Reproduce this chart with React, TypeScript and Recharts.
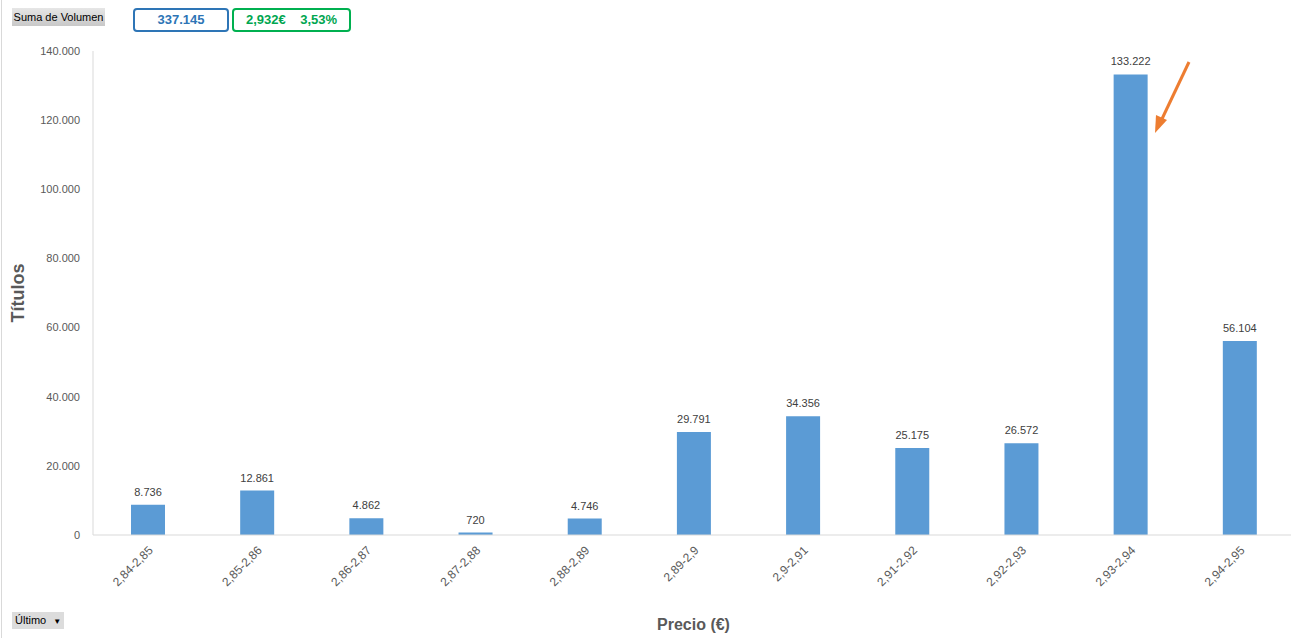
import React from "react";
import { BarChart, Bar, XAxis, YAxis, LabelList } from "recharts";

const categories = ["2,84-2,85", "2,85-2,86", "2,86-2,87", "2,87-2,88", "2,88-2,89", "2,89-2,9", "2,9-2,91", "2,91-2,92", "2,92-2,93", "2,93-2,94", "2,94-2,95"];
const volumes = [8736, 12861, 4862, 720, 4746, 29791, 34356, 25175, 26572, 133222, 56104];
const yTicks = [0, 20000, 40000, 60000, 80000, 100000, 120000, 140000];

const data = categories.map((c, i) => ({ cat: c, vol: volumes[i] }));

const fmt = (v: number) => (v === 0 ? "0" : v.toLocaleString("de-DE"));

const FONT = "'Liberation Sans', Arial, sans-serif";

export default function App() {
  return (
    <div style={{ position: "absolute", left: 0, top: 0, width: 1291, height: 638, overflow: "hidden", background: "#fff", fontFamily: FONT }}>
      <div style={{ position: "absolute", left: 1, top: 0, width: 1, height: 638, background: "#d9d9d9" }} />
      <BarChart width={1294} height={638} data={data} margin={{ top: 51, right: 0, left: 0, bottom: 0 }}>
        <XAxis
          dataKey="cat"
          height={103}
          tickLine={false}
          axisLine={{ stroke: "#d9d9d9" }}
          interval={0}
          angle={-45}
          textAnchor="end"
          tick={{ fill: "#595959", fontSize: 12, fontFamily: FONT }}
          tickMargin={4}
          label={{ value: "Precio (€)", position: "insideBottom", offset: 8, style: { fill: "#595959", fontSize: 16, fontWeight: "bold", fontFamily: FONT } }}
        />
        <YAxis
          width={93}
          domain={[0, 140000]}
          ticks={yTicks}
          tickFormatter={fmt}
          tickLine={false}
          axisLine={{ stroke: "#d9d9d9" }}
          tick={{ fill: "#595959", fontSize: 11, fontFamily: FONT }}
          tickMargin={7}
          label={{ value: "Títulos", angle: -90, position: "insideLeft", offset: 18, style: { textAnchor: "middle", fill: "#595959", fontSize: 18, fontWeight: "bold", fontFamily: FONT } }}
        />
        <Bar dataKey="vol" fill="#5B9BD5" barSize={34} isAnimationActive={false}>
          <LabelList dataKey="vol" position="top" offset={9} formatter={(v: number) => fmt(v)} style={{ fill: "#404040", fontSize: 11, fontFamily: FONT }} />
        </Bar>
      </BarChart>

      <svg style={{ position: "absolute", left: 0, top: 0 }} width={1291} height={638} pointerEvents="none">
        <line x1={1189} y1={62} x2={1161} y2={121} stroke="#ED7D31" strokeWidth={3} />
        <polygon points="1155,133 1156,115 1167,120" fill="#ED7D31" />
      </svg>

      <div style={{ position: "absolute", left: 12, top: 8, width: 93, height: 18, background: "linear-gradient(#e6e6e6, #c8c8c8)", fontSize: 11, lineHeight: "18px", color: "#000", textAlign: "center", fontFamily: FONT }}>
        Suma de Volumen
      </div>
      <div style={{ position: "absolute", left: 133, top: 8, width: 92, height: 20, border: "2px solid #2E75B6", borderRadius: 4, color: "#2E75B6", fontWeight: "bold", fontSize: 13, lineHeight: "20px", textAlign: "center", fontFamily: FONT }}>
        337.145
      </div>
      <div style={{ position: "absolute", left: 232, top: 8, width: 115, height: 20, border: "2px solid #00B050", borderRadius: 4, color: "#00A650", fontWeight: "bold", fontSize: 13, lineHeight: "20px", textAlign: "center", fontFamily: FONT, whiteSpace: "pre" }}>
        {"2,932€    3,53%"}
      </div>
      <div style={{ position: "absolute", left: 12, top: 612, width: 52, height: 17, background: "#dcdcdc", fontSize: 11, lineHeight: "17px", color: "#000", fontFamily: FONT, paddingLeft: 3, boxSizing: "border-box" }}>
        Último <span style={{ fontSize: 8, marginLeft: 4 }}>▼</span>
      </div>
    </div>
  );
}
